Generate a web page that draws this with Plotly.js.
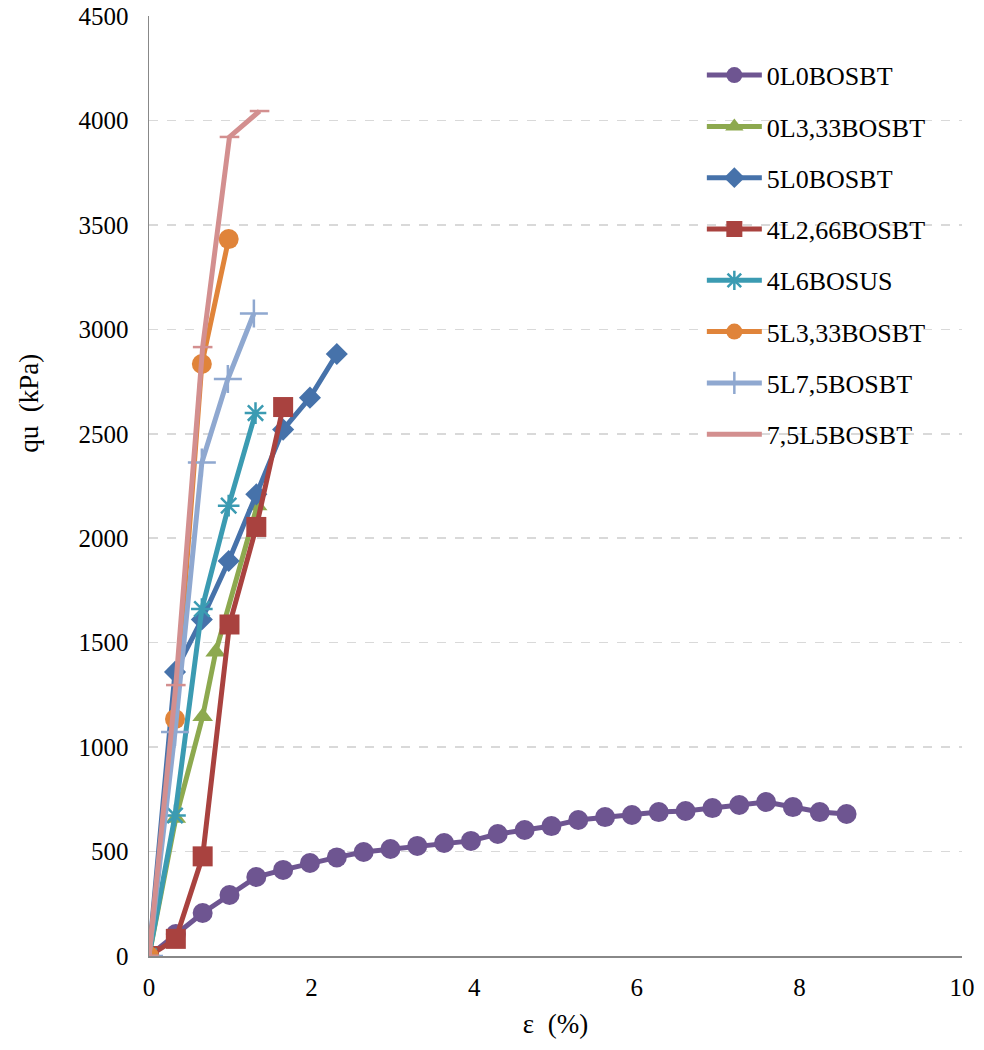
<!DOCTYPE html>
<html>
<head>
<meta charset="utf-8">
<script src="https://cdn.plot.ly/plotly-3.0.1.min.js"></script>
<style>html,body{margin:0;padding:0;background:#fff;}</style>
</head>
<body>
<div id="chart" style="width:984px;height:1050px;"></div>
<script>
const names = ["0L0BOSBT","0L3,33BOSBT","5L0BOSBT","4L2,66BOSBT","4L6BOSUS","5L3,33BOSBT","5L7,5BOSBT","7,5L5BOSBT"];

const x_0L0 = [0,0.33,0.66,0.99,1.32,1.65,1.98,2.31,2.64,2.97,3.30,3.63,3.96,4.29,4.62,4.95,5.28,5.61,5.94,6.27,6.60,6.93,7.26,7.59,7.92,8.25,8.58];
const y_0L0 = [0,105,206,292,378,412,445,472,498,512,527,541,551,584,603,622,651,665,675,689,694,708,723,737,713,689,680];

const x_0L333 = [0,0.33,0.66,0.82,1.33];
const y_0L333 = [0,660,1147,1455,2155];

const x_5L0 = [0,0.32,0.65,0.98,1.32,1.65,1.98,2.31];
const y_5L0 = [0,1360,1611,1891,2210,2520,2673,2882];

const x_4L266 = [0,0.33,0.66,0.99,1.32,1.65];
const y_4L266 = [0,82,477,1587,2054,2628];

const x_4L6 = [0,0.32,0.65,0.98,1.31];
const y_4L6 = [0,673,1661,2156,2599];

const x_5L333 = [0,0.32,0.65,0.98];
const y_5L333 = [0,1134,2834,3432];

const x_5L75 = [0,0.32,0.65,0.97,1.29];
const y_5L75 = [0,1072,2362,2762,3076];

const x_75L5 = [0,0.33,0.66,0.99,1.36];
const y_75L5 = [0,1297,2915,3921,4045];

const xs = [x_0L0,x_0L333,x_5L0,x_4L266,x_4L6,x_5L333,x_5L75,x_75L5];
const ys = [y_0L0,y_0L333,y_5L0,y_4L266,y_4L6,y_5L333,y_5L75,y_75L5];

const colors = ["#6E5591","#8DA94F","#4672AA","#A9423F","#3B9BB2","#E0843A","#8FA8D0","#D38F8F"];
const symbols = ["circle","triangle-up","diamond","square","asterisk-open","circle","cross-thin-open","line-ew-open"];
const sizes = [20,18,17,20,18,20,20,14];

const traces = names.map((n, i) => ({
  x: xs[i], y: ys[i], name: n, type: "scatter", mode: "lines+markers",
  legendgroup: "g" + i,
  line: {color: colors[i], width: 5},
  marker: {symbol: symbols[i], size: sizes[i], color: colors[i],
           line: {color: colors[i], width: (symbols[i].indexOf("open") >= 0 ? 2.5 : 0)}}
}));

const font = {family: "Liberation Serif, Times New Roman, serif", color: "#000"};

const layout = {
  width: 984, height: 1050,
  margin: {l: 149, r: 22, t: 16, b: 94},
  paper_bgcolor: "#fff", plot_bgcolor: "#fff",
  showlegend: true,
  font: Object.assign({size: 26}, font),
  legend: {
    x: 0.68, y: 0.962, xanchor: "left", yanchor: "top",
    font: Object.assign({size: 26}, font),
    traceorder: "grouped", tracegroupgap: 14.5,
    itemwidth: 55, bgcolor: "rgba(0,0,0,0)"
  },
  xaxis: {
    range: [0, 10], dtick: 2, tick0: 0,
    showgrid: false, zeroline: false,
    showline: true, linecolor: "#888", linewidth: 1.5,
    ticks: "", ticklabelstandoff: 8,
    tickfont: Object.assign({size: 25}, font),
    title: {text: "ε  (%)", font: Object.assign({size: 27}, font), standoff: 14}
  },
  yaxis: {
    range: [0, 4500], dtick: 500, tick0: 0,
    showgrid: true, gridcolor: "#d9d9d9", griddash: "dash", gridwidth: 1.5,
    zeroline: false,
    showline: true, linecolor: "#888", linewidth: 1.5,
    ticks: "", ticklabelstandoff: 14,
    tickfont: Object.assign({size: 25}, font)
  },
  annotations: [{
    text: "qu  (kPa)", textangle: -90, showarrow: false,
    xref: "paper", yref: "paper", x: -0.147, y: 0.588,
    xanchor: "center", yanchor: "middle",
    font: Object.assign({size: 27}, font)
  }]
};

Plotly.newPlot("chart", traces, layout, {displayModeBar: false, staticPlot: true});
</script>
</body>
</html>
